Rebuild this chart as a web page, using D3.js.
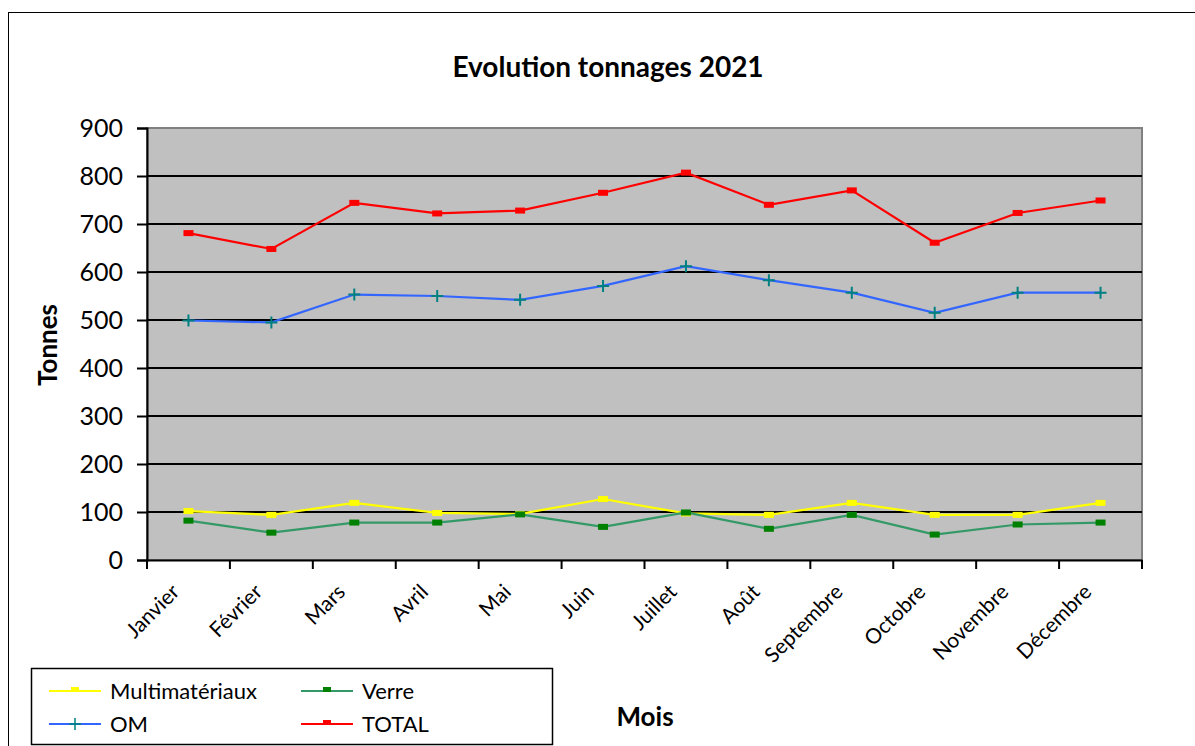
<!DOCTYPE html>
<html>
<head>
<meta charset="utf-8">
<script src="https://cdn.jsdelivr.net/npm/d3@7"></script>
<style>
  body { margin: 0; background: #fff; }
  svg text { font-family: Lato, "Open Sans", sans-serif; }
</style>
</head>
<body>
<div class="canvas"></div>
<script>
// data
const months = ['Janvier','Février','Mars','Avril','Mai','Juin','Juillet','Août','Septembre','Octobre','Novembre','Décembre']
const multimateriaux = [102, 94, 119, 98, 96, 127, 97, 94, 119, 94, 94, 119]
const verre = [82, 57, 78, 78, 95, 69, 99, 65, 94, 53, 74, 78]
const om = [499, 495, 553, 550, 542, 571, 612, 583, 557, 515, 557, 557]
const total = [681, 648, 744, 722, 728, 765, 807, 740, 770, 661, 723, 749]
const yTicks = [0, 100, 200, 300, 400, 500, 600, 700, 800, 900]

const margin = { top: 128, right: 53, bottom: 186, left: 147 }
const width = 1195, height = 746
const graphWidth = width - margin.left - margin.right
const graphHeight = height - margin.top - margin.bottom

const svg = d3.select('.canvas').append('svg').attr('width', width).attr('height', height)

// outer chart frame
svg.append('rect').attr('x', 8.5).attr('y', 12.5).attr('width', 1200).attr('height', 760)
  .attr('fill', '#fff').attr('stroke', '#000').attr('stroke-width', 1)

const graph = svg.append('g').attr('transform', `translate(${margin.left},${margin.top})`)

// scales
const x = d3.scaleBand().domain(months).range([0, graphWidth])
const y = d3.scaleLinear().domain([0, 900]).range([graphHeight, 0])

// plot background
graph.append('rect').attr('width', graphWidth).attr('height', graphHeight)
  .attr('fill', '#c0c0c0').attr('stroke', '#808080').attr('stroke-width', 2)

// gridlines
graph.append('g').selectAll('line').data(yTicks.filter(d => d > 0 && d < 900)).enter().append('line')
  .attr('x1', 0).attr('x2', graphWidth).attr('y1', d => y(d)).attr('y2', d => y(d))
  .attr('stroke', '#000').attr('stroke-width', 2)

// axes
const yAxisGroup = graph.append('g').attr('class', 'y-axis')
yAxisGroup.call(d3.axisLeft(y).tickValues(yTicks).tickSize(10).tickPadding(14))
yAxisGroup.select('.domain').attr('stroke-width', 2)
yAxisGroup.selectAll('line').attr('stroke-width', 2)
yAxisGroup.selectAll('text').attr('font-size', 25).attr('fill', '#000')

const xAxisGroup = graph.append('g').attr('class', 'x-axis').attr('transform', `translate(0,${graphHeight})`)
xAxisGroup.call(d3.axisBottom(x).tickSize(0).tickSizeOuter(0))
xAxisGroup.select('.domain').attr('stroke-width', 2)
xAxisGroup.selectAll('text')
  .attr('font-size', 21).attr('fill', '#000')
  .attr('text-anchor', 'end')
  .attr('transform', 'translate(-13,28) rotate(-45)')
  .attr('dy', '0.35em').attr('y', 0)

// ticks between categories
const bounds = d3.range(months.length + 1).map(i => i * x.step())
xAxisGroup.selectAll('.sep').data(bounds).enter().append('line').attr('class', 'sep')
  .attr('x1', d => d).attr('x2', d => d).attr('y1', 0).attr('y2', 9)
  .attr('stroke', '#000').attr('stroke-width', 2)

const cx = (d, i) => x(months[i]) + x.bandwidth() / 2
const line = d3.line().x((d, i) => cx(d, i)).y(d => y(d))

const series = [
  { name: 'Multimatériaux', values: multimateriaux, color: '#ffff00', mark: '#ffff00', shape: 'dash' },
  { name: 'Verre', values: verre, color: '#339966', mark: '#008000', shape: 'dash' },
  { name: 'OM', values: om, color: '#3366ff', mark: '#008080', shape: 'plus' },
  { name: 'TOTAL', values: total, color: '#ff0000', mark: '#ff0000', shape: 'dash' }
]

const drawMark = (g, s, px, py) => {
  if (s.shape === 'plus') {
    g.append('path').attr('d', `M${px - 6},${py}H${px + 6}M${px},${py - 6}V${py + 6}`)
      .attr('stroke', s.mark).attr('stroke-width', 2)
  } else {
    g.append('rect').attr('x', px - 5).attr('y', py - 3).attr('width', 10).attr('height', 6).attr('fill', s.mark)
  }
}

series.forEach(s => {
  graph.append('path').datum(s.values).attr('fill', 'none')
    .attr('stroke', s.color).attr('stroke-width', 2.2).attr('d', line)
  const marks = graph.append('g')
  s.values.forEach((v, i) => drawMark(marks, s, cx(v, i), y(v)))
})

// title and axis labels
svg.append('text').attr('x', 608).attr('y', 77).attr('text-anchor', 'middle')
  .attr('font-size', 28).attr('font-weight', 'bold').text('Evolution tonnages 2021')
svg.append('text').attr('transform', 'translate(57,345) rotate(-90)').attr('text-anchor', 'middle')
  .attr('font-size', 26).attr('font-weight', 'bold').text('Tonnes')
svg.append('text').attr('x', 645).attr('y', 726).attr('text-anchor', 'middle')
  .attr('font-size', 26).attr('font-weight', 'bold').text('Mois')

// legend
const legend = svg.append('g')
legend.append('rect').attr('x', 31.5).attr('y', 668.5).attr('width', 521).attr('height', 76)
  .attr('fill', '#fff').attr('stroke', '#000').attr('stroke-width', 1.5)
const legendPos = [[49, 691], [301, 691], [49, 724], [301, 724]]
series.forEach((s, i) => {
  const [lx, ly] = legendPos[i]
  legend.append('line').attr('x1', lx).attr('x2', lx + 52).attr('y1', ly).attr('y2', ly)
    .attr('stroke', s.color).attr('stroke-width', 2)
  if (s.shape === 'plus') {
    legend.append('path').attr('d', `M${lx + 20},${ly}H${lx + 32}M${lx + 26},${ly - 6}V${ly + 6}`)
      .attr('stroke', s.mark).attr('stroke-width', 1.5)
  } else {
    legend.append('rect').attr('x', lx + 22).attr('y', ly - 4).attr('width', 8).attr('height', 5).attr('fill', s.mark)
  }
  legend.append('text').attr('x', lx + 61).attr('y', ly).attr('dy', '0.35em')
    .attr('font-size', 22).text(s.name)
})
</script>
</body>
</html>
